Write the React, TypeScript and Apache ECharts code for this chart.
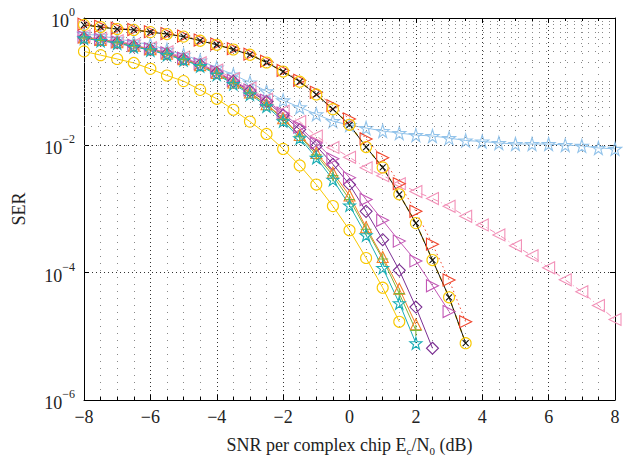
import React, { useEffect, useRef } from "react";
import * as echarts from "echarts";

const snr = [-8, -7.5, -7, -6.5, -6, -5.5, -5, -4.5, -4, -3.5, -3, -2.5, -2, -1.5, -1, -0.5, 0, 0.5, 1, 1.5, 2, 2.5, 3, 3.5, 4, 4.5, 5, 5.5, 6, 6.5, 7, 7.5, 8];

const serUpperYellow = [0.78, 0.72, 0.67, 0.65, 0.60, 0.56, 0.51, 0.44, 0.38, 0.32, 0.265, 0.20, 0.144, 0.10, 0.063, 0.037, 0.021, 0.0094, 0.0045, 0.0017, 6.0e-4, 1.58e-4, 4.1e-5, 7.8e-6];
const serBlackX = [0.78, 0.72, 0.67, 0.65, 0.60, 0.56, 0.51, 0.44, 0.38, 0.32, 0.265, 0.20, 0.144, 0.10, 0.063, 0.037, 0.021, 0.0094, 0.0045, 0.0017, 6.0e-4, 1.58e-4, 4.1e-5, 7.8e-6];
const serRed = [0.80, 0.74, 0.69, 0.66, 0.61, 0.57, 0.52, 0.45, 0.39, 0.33, 0.27, 0.21, 0.15, 0.105, 0.068, 0.042, 0.026, 0.0126, 0.0064, 0.0025, 9.2e-4, 2.8e-4, 7.7e-5, 1.7e-5];
const serLightBlue = [0.563, 0.525, 0.471, 0.423, 0.380, 0.317, 0.265, 0.214, 0.166, 0.129, 0.097, 0.0703, 0.0509, 0.0396, 0.0308, 0.0240, 0.0208, 0.0187, 0.0168, 0.0156, 0.0145, 0.0140, 0.0130, 0.0119, 0.0115, 0.0109, 0.0105, 0.0105, 0.0105, 0.0101, 0.0098, 0.0091, 0.0088];
const serPink = [0.524, 0.480, 0.438, 0.387, 0.341, 0.295, 0.243, 0.199, 0.152, 0.112, 0.0798, 0.0528, 0.0343, 0.0236, 0.0140, 0.00927, 0.00648, 0.00445, 0.00334, 0.00250, 0.00188, 0.00146, 0.00110, 7.67e-4, 5.61e-4, 3.92e-4, 2.64e-4, 1.85e-4, 1.19e-4, 7.73e-5, 5.02e-5, 3.04e-5, 1.84e-5];
const serPurple = [0.488, 0.446, 0.408, 0.360, 0.318, 0.275, 0.226, 0.185, 0.139, 0.101, 0.0716, 0.0483, 0.0298, 0.0177, 0.0098, 0.00504, 0.00242, 9.18e-4, 3.30e-4, 1.09e-4, 2.88e-5, 6.5e-6];
const serMagenta = [0.506, 0.463, 0.423, 0.373, 0.329, 0.285, 0.234, 0.192, 0.144, 0.104, 0.0743, 0.0509, 0.0320, 0.0194, 0.0109, 0.00614, 0.00311, 0.00141, 6.64e-4, 3.13e-4, 1.53e-4, 6.23e-5, 2.45e-5];
const serOrange = [0.497, 0.454, 0.415, 0.366, 0.323, 0.275, 0.226, 0.182, 0.137, 0.0972, 0.0679, 0.0442, 0.0267, 0.0145, 0.00762, 0.00372, 0.00163, 5.17e-4, 1.76e-4, 5.60e-5, 1.54e-5];
const serGreen = [0.488, 0.446, 0.408, 0.360, 0.318, 0.270, 0.222, 0.179, 0.134, 0.0955, 0.0667, 0.0434, 0.0258, 0.0140, 0.00709, 0.00334, 0.00141, 4.81e-4, 1.64e-4, 4.68e-5, 1.24e-5];
const serTeal = [0.480, 0.438, 0.401, 0.353, 0.312, 0.265, 0.218, 0.176, 0.129, 0.0921, 0.0632, 0.0411, 0.0240, 0.0130, 0.00637, 0.00289, 0.00114, 3.88e-4, 1.19e-4, 3.32e-5, 7.8e-6];
const serYellowLow = [0.299, 0.261, 0.227, 0.197, 0.159, 0.125, 0.102, 0.0743, 0.0538, 0.0362, 0.0236, 0.0151, 0.00879, 0.00483, 0.00242, 0.00111, 4.64e-4, 1.70e-4, 5.80e-5, 1.69e-5];

const FONT = "Liberation Serif";

const SYM_X = "path://M0,0L10,10M10,0L0,10";
const SYM_PLUS = "path://M5,0L5,10M0,5L10,5";
const SYM_STAR = "path://M50,0L61,35L98,35L68,57L79,91L50,70L21,91L32,57L2,35L39,35Z";
const SYM_TRI_R = "path://M0,0L10,5L0,10Z";
const SYM_TRI_L = "path://M10,0L0,5L10,10Z";

function zip(vals: number[]) {
  return vals.map((v, i) => [snr[i], v]);
}

function mk(name: string, vals: number[], color: string, symbol: string, size: number, lineType: any = "solid", lineWidth = 1) {
  return {
    name,
    type: "line",
    data: zip(vals),
    symbol,
    symbolSize: size,
    showSymbol: true,
    lineStyle: { color, width: lineWidth, type: lineType },
    itemStyle: { color: "none", borderColor: color, borderWidth: 1.1 },
    emphasis: { disabled: true },
    silent: true,
    z: 3,
  };
}

export default function App() {
  const ref = useRef<HTMLDivElement>(null);
  useEffect(() => {
    if (!ref.current) return;
    const chart = echarts.init(ref.current, undefined, { renderer: "svg" });

    const minorY: any[] = [];
    for (let e = -6; e < 0; e++) {
      for (let m = 2; m <= 9; m++) minorY.push({ yAxis: m * Math.pow(10, e) });
      if (e % 2 !== 0) minorY.push({ yAxis: Math.pow(10, e) });
    }

    const supFmt = (v: number) => {
      const e = Math.round(Math.log10(v));
      return "{b|10}{s|" + (e === 0 ? "0" : "\u2212" + -e) + "}";
    };

    const option: any = {
      animation: false,
      backgroundColor: "#fff",
      grid: { left: 84, right: 8, top: 18, bottom: 58, show: false },
      xAxis: [
        {
          type: "value",
          min: -8,
          max: 8,
          interval: 2,
          axisLine: { show: true, onZero: false, lineStyle: { color: "#000", width: 1 } },
          axisTick: { show: true, inside: true, length: 5, lineStyle: { color: "#000" } },
          minorTick: { show: true, splitNumber: 4, length: 3, lineStyle: { color: "#000" } },
          axisLabel: {
            color: "#222",
            fontFamily: FONT,
            fontSize: 18,
            margin: 8,
            formatter: (v: number) => String(v).replace("-", "\u2212"),
          },
          splitLine: { show: true, lineStyle: { color: "#333", type: [1, 3], width: 1 } },
          minorSplitLine: { show: true, lineStyle: { color: "#888", type: [1, 6], width: 1 } },
          name: "{n|SNR per complex chip E}{sub|c}{n|/N}{sub|0}{n| (dB)}",
          nameLocation: "middle",
          nameGap: 34,
          nameTextStyle: {
            fontFamily: FONT,
            color: "#222",
            fontSize: 18,
            rich: {
              n: { fontFamily: FONT, fontSize: 18, color: "#222", lineHeight: 22, verticalAlign: "middle" },
              sub: { fontFamily: FONT, fontSize: 11, color: "#222", lineHeight: 22, verticalAlign: "bottom" },
            },
          },
        },
        {
          type: "value",
          position: "top",
          min: -8,
          max: 8,
          interval: 2,
          axisLine: { show: true, onZero: false, lineStyle: { color: "#000", width: 1 } },
          axisTick: { show: true, inside: true, length: 5, lineStyle: { color: "#000" } },
          minorTick: { show: true, splitNumber: 4, length: 3, lineStyle: { color: "#000" } },
          axisLabel: { show: false },
          splitLine: { show: false },
        },
      ],
      yAxis: [
        {
          type: "log",
          logBase: 10,
          min: 1e-6,
          max: 1,
          interval: 2,
          axisLine: { show: true, onZero: false, lineStyle: { color: "#000", width: 1 } },
          axisTick: { show: true, inside: true, length: 5, lineStyle: { color: "#000" } },
          axisLabel: {
            fontFamily: FONT,
            color: "#222",
            margin: 9,
            formatter: supFmt,
            rich: {
              b: { fontFamily: FONT, fontSize: 18, color: "#222", lineHeight: 24, verticalAlign: "bottom" },
              s: { fontFamily: FONT, fontSize: 12, color: "#222", lineHeight: 24, verticalAlign: "top" },
            },
          },
          splitLine: { show: true, lineStyle: { color: "#333", type: [1, 3], width: 1 } },
          name: "SER",
          nameLocation: "middle",
          nameGap: 56,
          nameTextStyle: { fontFamily: FONT, fontSize: 18, color: "#222" },
        },
        {
          type: "log",
          logBase: 10,
          min: 1e-6,
          max: 1,
          interval: 2,
          position: "right",
          axisLine: { show: true, onZero: false, lineStyle: { color: "#000", width: 1 } },
          axisTick: { show: true, inside: true, length: 5, lineStyle: { color: "#000" } },
          axisLabel: { show: false },
          splitLine: { show: false },
        },
      ],
      series: [
        {
          name: "grid",
          type: "line",
          data: [],
          silent: true,
          z: 1,
          markLine: {
            silent: true,
            symbol: "none",
            label: { show: false },
            animation: false,
            lineStyle: { color: "#888", type: [1, 6], width: 1 },
            emphasis: { disabled: true },
            data: minorY,
          },
        },
        mk("lightblue", serLightBlue, "#92c3ea", SYM_STAR, 13),
        mk("pink", serPink, "#f291b8", SYM_TRI_L, 12, [6, 3, 1, 3]),
        mk("purple", serPurple, "#7b2f92", "diamond", 12),
        mk("magenta", serMagenta, "#c257b5", SYM_TRI_R, 12),
        mk("orange", serOrange, "#f57f26", "triangle", 11),
        mk("green", serGreen, "#7fb539", SYM_PLUS, 11),
        mk("teal", serTeal, "#1aaeb5", SYM_STAR, 12),
        mk("yellowLow", serYellowLow, "#f8c800", "circle", 11),
        mk("red", serRed, "#f0432a", SYM_TRI_R, 12, [1.5, 3]),
        mk("yellowUp", serUpperYellow, "#f8c800", "circle", 11, [4, 3], 1.4),
        mk("blackX", serBlackX, "#111", SYM_X, 6),
      ],
    };
    chart.setOption(option);
    return () => chart.dispose();
  }, []);
  return (
    <div
      ref={ref}
      style={{ position: "fixed", left: 0, top: 0, width: 623, height: 461, background: "#fff" }}
    />
  );
}
